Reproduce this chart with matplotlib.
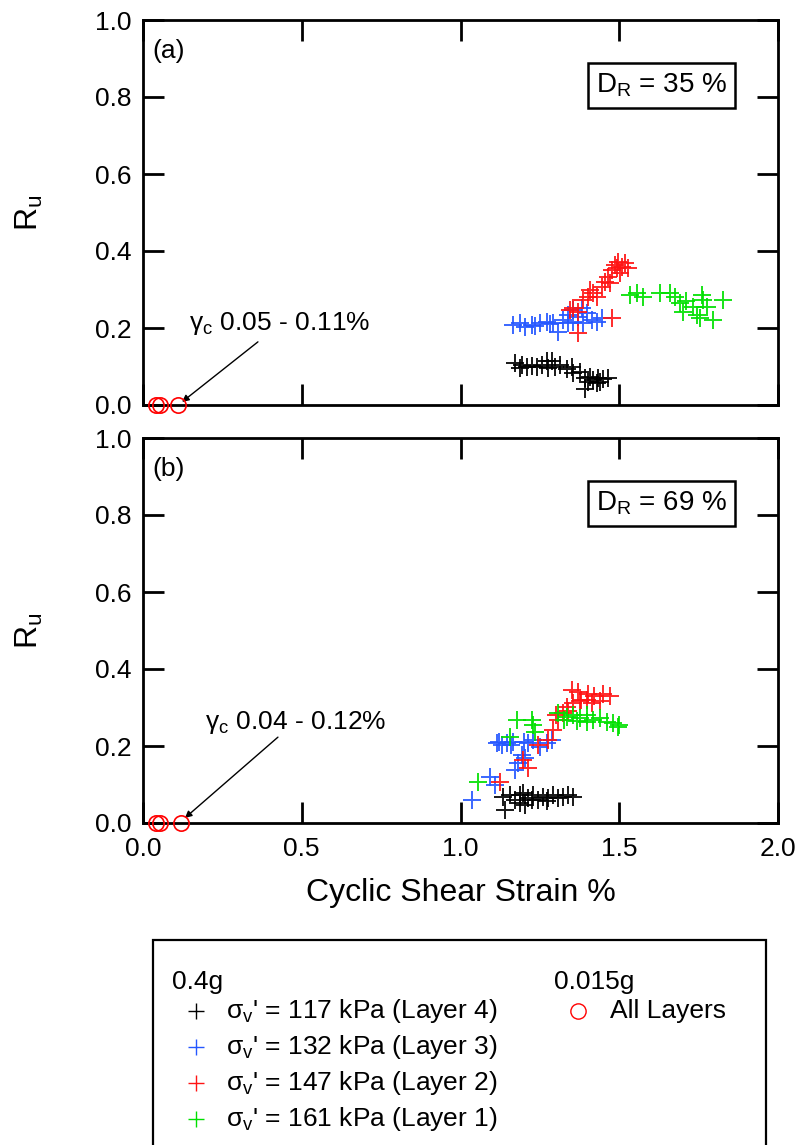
import matplotlib
matplotlib.use("Agg")
import matplotlib.pyplot as plt
from matplotlib.lines import Line2D
from matplotlib.patches import Rectangle

plt.rcParams['font.family'] = ['Liberation Sans', 'DejaVu Sans']
plt.rcParams['mathtext.fontset'] = 'custom'
plt.rcParams['mathtext.rm'] = 'Liberation Sans'
plt.rcParams['mathtext.it'] = 'Liberation Sans'

# ---------------- data: panel (a) D_R = 35 % ----------------
a_l4_x = [1.172, 1.193, 1.208, 1.224, 1.240, 1.256, 1.271, 1.287, 1.277, 1.298, 1.313, 1.334, 1.350,
          1.355, 1.376, 1.392, 1.408, 1.418, 1.434, 1.450, 1.466, 1.392, 1.429, 1.439, 1.188, 1.403]
a_l4_y = [0.110, 0.104, 0.100, 0.101, 0.098, 0.104, 0.113, 0.115, 0.095, 0.100, 0.104, 0.093, 0.100,
          0.082, 0.087, 0.069, 0.074, 0.065, 0.069, 0.067, 0.069, 0.041, 0.056, 0.060, 0.097, 0.061]

a_l3_x = [1.166, 1.187, 1.203, 1.224, 1.250, 1.271, 1.292, 1.308, 1.324, 1.340, 1.355, 1.371, 1.387,
          1.397, 1.413, 1.429, 1.445, 1.382, 1.355, 1.340, 1.281, 1.234]
a_l3_y = [0.208, 0.212, 0.203, 0.208, 0.212, 0.216, 0.212, 0.190, 0.221, 0.234, 0.216, 0.229, 0.212,
          0.238, 0.221, 0.216, 0.225, 0.251, 0.247, 0.212, 0.210, 0.206]

a_l2_x = [1.355, 1.371, 1.387, 1.403, 1.418, 1.429, 1.445, 1.455, 1.466, 1.476, 1.487, 1.497, 1.508,
          1.518, 1.529, 1.502, 1.471, 1.476, 1.371, 1.345, 1.408, 1.492]
a_l2_y = [0.251, 0.242, 0.273, 0.281, 0.290, 0.281, 0.307, 0.320, 0.333, 0.351, 0.364, 0.372, 0.359,
          0.368, 0.355, 0.342, 0.316, 0.225, 0.186, 0.247, 0.299, 0.356]

a_l1_x = [1.534, 1.555, 1.576, 1.628, 1.660, 1.676, 1.691, 1.702, 1.733, 1.744, 1.754, 1.765, 1.776,
          1.796, 1.828, 1.760, 1.710]
a_l1_y = [0.286, 0.290, 0.281, 0.290, 0.290, 0.281, 0.264, 0.242, 0.255, 0.234, 0.225, 0.273, 0.255,
          0.221, 0.273, 0.285, 0.270]

a_low_x = [0.040, 0.055, 0.110]
a_low_y = [0.0, 0.0, 0.0]

# ---------------- data: panel (b) D_R = 69 % ----------------
b_l4_x = [1.135, 1.156, 1.172, 1.187, 1.203, 1.214, 1.229, 1.245, 1.261, 1.277, 1.292, 1.308, 1.324,
          1.340, 1.355, 1.140, 1.187, 1.271, 1.224, 1.197]
b_l4_y = [0.068, 0.073, 0.060, 0.073, 0.047, 0.064, 0.073, 0.060, 0.068, 0.064, 0.073, 0.064, 0.068,
          0.073, 0.068, 0.034, 0.051, 0.056, 0.060, 0.078]

b_l3_x = [1.036, 1.093, 1.109, 1.114, 1.130, 1.145, 1.166, 1.172, 1.182, 1.193, 1.203, 1.214, 1.229,
          1.250, 1.271, 1.287, 1.160, 1.200, 1.120]
b_l3_y = [0.060, 0.120, 0.099, 0.207, 0.203, 0.207, 0.211, 0.138, 0.155, 0.177, 0.168, 0.207, 0.216,
          0.198, 0.207, 0.216, 0.203, 0.210, 0.210]

b_l2_x = [1.124, 1.214, 1.198, 1.245, 1.277, 1.292, 1.308, 1.324, 1.334, 1.355, 1.376, 1.397, 1.413,
          1.302, 1.340, 1.440, 1.370, 1.400, 1.420, 1.450, 1.470, 1.380, 1.350]
b_l2_y = [0.107, 0.142, 0.164, 0.203, 0.216, 0.242, 0.268, 0.285, 0.302, 0.311, 0.316, 0.320, 0.311,
          0.281, 0.290, 0.316, 0.340, 0.335, 0.330, 0.335, 0.330, 0.320, 0.345]

b_l1_x = [1.056, 1.156, 1.177, 1.224, 1.229, 1.235, 1.308, 1.334, 1.355, 1.376, 1.397, 1.418, 1.439,
          1.460, 1.481, 1.497, 1.500, 1.325, 1.366, 1.397]
b_l1_y = [0.107, 0.224, 0.268, 0.268, 0.255, 0.237, 0.285, 0.276, 0.281, 0.272, 0.281, 0.268, 0.272,
          0.263, 0.259, 0.250, 0.255, 0.268, 0.265, 0.263]

b_low_x = [0.040, 0.055, 0.120]
b_low_y = [0.0, 0.0, 0.0]

layer_labels = ["\u03c3$_\\mathregular{v}$' = 117 kPa (Layer 4)",
                "\u03c3$_\\mathregular{v}$' = 132 kPa (Layer 3)",
                "\u03c3$_\\mathregular{v}$' = 147 kPa (Layer 2)",
                "\u03c3$_\\mathregular{v}$' = 161 kPa (Layer 1)"]
layer_colors = ['black', '#2557ff', '#ff1414', '#00e000']
x_ticks = [0.0, 0.5, 1.0, 1.5, 2.0]
y_ticks = [0.0, 0.2, 0.4, 0.6, 0.8, 1.0]

panels = [
    dict(tag='(a)', dr='D$_\\mathregular{R}$ = 35 %',
         series=[(a_l4_x, a_l4_y), (a_l3_x, a_l3_y), (a_l2_x, a_l2_y), (a_l1_x, a_l1_y)],
         low=(a_low_x, a_low_y), ann='\u03b3$_\\mathregular{c}$ 0.05 - 0.11%',
         ann_txt=(0.145, 0.212), arr_from=(0.362, 0.164), arr_to=(0.123, 0.008)),
    dict(tag='(b)', dr='D$_\\mathregular{R}$ = 69 %',
         series=[(b_l4_x, b_l4_y), (b_l3_x, b_l3_y), (b_l2_x, b_l2_y), (b_l1_x, b_l1_y)],
         low=(b_low_x, b_low_y), ann='\u03b3$_\\mathregular{c}$ 0.04 - 0.12%',
         ann_txt=(0.195, 0.262), arr_from=(0.425, 0.223), arr_to=(0.132, 0.013)),
]

W, H = 801, 1145
fig = plt.figure(figsize=(W / 100, H / 100), dpi=100)

def fx(px):
    return px / W

def fy(py):
    return 1 - py / H

axes_px = [(143, 20, 778, 405), (143, 438, 778, 823)]
tick_fs = 19
for i, (p, (l, t, r, b)) in enumerate(zip(panels, axes_px)):
    ax = fig.add_axes([fx(l), fy(b), fx(r) - fx(l), fy(t) - fy(b)])
    for (xs, ys), c in zip(p['series'], layer_colors):
        ax.plot(xs, ys, linestyle='none', marker='+', ms=13, mew=1.4, color=c, alpha=0.9)
    ax.plot(p['low'][0], p['low'][1], linestyle='none', marker='o', ms=11, mfc='none',
            mec='red', mew=1.2, clip_on=False, zorder=5)
    ax.set_xlim(0, 2.0)
    ax.set_ylim(0, 1.0)
    ax.set_xticks(x_ticks)
    ax.set_yticks(y_ticks)
    ax.set_yticklabels([f'{v:.1f}' for v in y_ticks])
    if i == 1:
        ax.set_xticklabels([f'{v:.1f}' for v in x_ticks])
    else:
        ax.set_xticklabels([])
    ax.tick_params(direction='in', length=15, width=2.0, top=True, right=True,
                   labelsize=tick_fs)
    ax.tick_params(axis='y', pad=8)
    ax.tick_params(axis='x', pad=10)
    for s in ax.spines.values():
        s.set_linewidth(2.0)
    ax.set_ylabel('R$_\\mathregular{u}$', fontsize=23)
    ax.yaxis.set_label_coords(-0.155, 0.5)
    ax.text(0.03, 0.92, p['tag'], fontsize=19, ha='left', va='center')
    ax.text(1.839, 0.83, p['dr'], fontsize=20, ha='right', va='center',
            bbox=dict(boxstyle='square,pad=0.3', fc='white', ec='black', lw=1.8))
    ax.annotate('', xy=p['arr_to'], xytext=p['arr_from'],
                arrowprops=dict(arrowstyle='-|>', color='black', lw=1.0, mutation_scale=10,
                                shrinkA=0, shrinkB=0))
    ax.text(p['ann_txt'][0], p['ann_txt'][1], p['ann'], fontsize=19, ha='left', va='center')

fig.text(0.5 * (fx(143) + fx(778)), fy(893), 'Cyclic Shear Strain %', fontsize=23,
         ha='center', va='center')

# legend box (extends beyond bottom edge)
fig.add_artist(Rectangle((fx(153), -0.05), fx(766) - fx(153), fy(940) + 0.05,
                         transform=fig.transFigure, fill=False, ec='black', lw=1.6))
leg_fs = 19
fig.text(fx(172), fy(982), '0.4g', fontsize=leg_fs, ha='left', va='center')
fig.text(fx(554), fy(982), '0.015g', fontsize=leg_fs, ha='left', va='center')
rows = [1011, 1047, 1083, 1119]
for lab, c, ry in zip(layer_labels, layer_colors, rows):
    fig.add_artist(Line2D([fx(196)], [fy(ry)], transform=fig.transFigure, marker='+',
                          ms=12, mew=1.0, color=c, linestyle='none'))
    fig.text(fx(226), fy(ry), lab, fontsize=leg_fs, ha='left', va='center')
fig.add_artist(Line2D([fx(578)], [fy(1011)], transform=fig.transFigure, marker='o',
                      ms=11, mfc='none', mec='red', mew=1.0, linestyle='none'))
fig.text(fx(610), fy(1011), 'All Layers', fontsize=leg_fs, ha='left', va='center')

fig.savefig('out.png', dpi=100)
